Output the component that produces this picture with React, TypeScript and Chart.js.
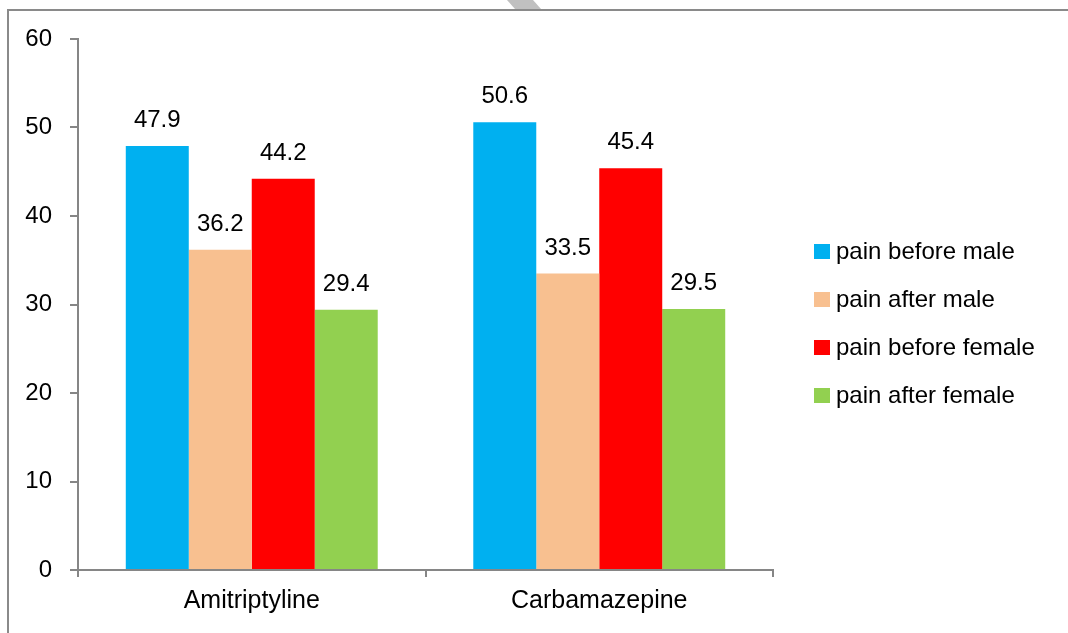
import React, { useEffect, useRef } from "react";
import { Chart, registerables } from "chart.js";

Chart.register(...registerables);

const categories = ["Amitriptyline", "Carbamazepine"];
const seriesLabels = ["pain before male", "pain after male", "pain before female", "pain after female"];
const painBeforeMale = [47.9, 50.6];
const painAfterMale = [36.2, 33.5];
const painBeforeFemale = [44.2, 45.4];
const painAfterFemale = [29.4, 29.5];
const seriesColors = ["#00B0F0", "#F8C090", "#FF0000", "#92D050"];
const yTicks = { min: 0, max: 60, step: 10 };

const FONT = "'Liberation Sans', Arial, sans-serif";
const AXIS_COLOR = "#868686";

const dataLabelPlugin = {
  id: "dataLabels",
  afterDatasetsDraw(chart: any) {
    const ctx = chart.ctx;
    ctx.save();
    ctx.font = `24px ${FONT}`;
    ctx.fillStyle = "#000";
    ctx.textAlign = "center";
    ctx.textBaseline = "alphabetic";
    chart.data.datasets.forEach((ds: any, di: number) => {
      const meta = chart.getDatasetMeta(di);
      meta.data.forEach((el: any, i: number) => {
        ctx.fillText(String(ds.data[i].toFixed(1)), el.x, el.y - 19);
      });
    });
    ctx.restore();
  },
};

const legendPlugin = {
  id: "customLegend",
  afterDraw(chart: any) {
    const ctx = chart.ctx;
    ctx.save();
    ctx.font = `24px ${FONT}`;
    ctx.textAlign = "left";
    ctx.textBaseline = "middle";
    const x0 = chart.chartArea.right + 41;
    const y0 = 251;
    chart.data.datasets.forEach((ds: any, i: number) => {
      const cy = y0 + i * 48;
      ctx.fillStyle = ds.backgroundColor;
      ctx.fillRect(x0, cy - 7, 16, 15);
      ctx.fillStyle = "#000";
      ctx.fillText(ds.label, x0 + 22, cy + 1);
    });
    ctx.restore();
  },
};

export default function App() {
  const ref = useRef<HTMLCanvasElement | null>(null);

  useEffect(() => {
    if (!ref.current) return;
    const data = [painBeforeMale, painAfterMale, painBeforeFemale, painAfterFemale];
    const chart = new Chart(ref.current, {
      type: "bar",
      data: {
        labels: categories,
        datasets: seriesLabels.map((label, i) => ({
          label,
          data: data[i],
          backgroundColor: seriesColors[i],
          borderWidth: 0,
          categoryPercentage: 0.725,
          barPercentage: 1,
        })),
      },
      options: {
        animation: false,
        responsive: false,
        maintainAspectRatio: false,
        layout: { padding: { left: 0, top: 39, right: 295, bottom: 0 } },
        plugins: {
          legend: { display: false },
          tooltip: { enabled: false },
        },
        scales: {
          x: {
            afterFit: (s: any) => {
              s.height = 63;
            },
            grid: {
              display: true,
              drawOnChartArea: false,
              drawTicks: true,
              tickLength: 7,
              color: AXIS_COLOR,
              lineWidth: 2,
              offset: true,
            },
            border: { display: true, color: AXIS_COLOR, width: 2 },
            ticks: {
              color: "#000",
              font: { family: FONT, size: 25 },
              padding: 9,
            },
          },
          y: {
            min: yTicks.min,
            max: yTicks.max,
            afterFit: (s: any) => {
              s.width = 78;
            },
            grid: {
              display: true,
              drawOnChartArea: false,
              drawTicks: true,
              tickLength: 8,
              color: AXIS_COLOR,
              lineWidth: 2,
            },
            border: { display: true, color: AXIS_COLOR, width: 2 },
            ticks: {
              stepSize: yTicks.step,
              color: "#000",
              font: { family: FONT, size: 24 },
              padding: 18,
            },
          },
        },
      },
      plugins: [dataLabelPlugin, legendPlugin],
    });
    return () => chart.destroy();
  }, []);

  return (
    <div style={{ position: "absolute", left: 0, top: 0, width: 1068, height: 633, overflow: "hidden", background: "#fff" }}>
      <canvas ref={ref} width={1068} height={633} style={{ position: "absolute", left: 0, top: 0, width: 1068, height: 633 }} />
      <div
        style={{
          position: "absolute",
          left: 507,
          top: 0,
          width: 34,
          height: 9,
          background: "#c0c0c0",
          clipPath: "polygon(0 0, 26px 0, 34px 9px, 8px 9px)",
        }}
      />
      <div
        style={{
          position: "absolute",
          left: 7,
          top: 9,
          width: 1100,
          height: 700,
          borderTop: "2px solid #8a8a8a",
          borderLeft: "2px solid #8a8a8a",
          pointerEvents: "none",
        }}
      />
    </div>
  );
}
